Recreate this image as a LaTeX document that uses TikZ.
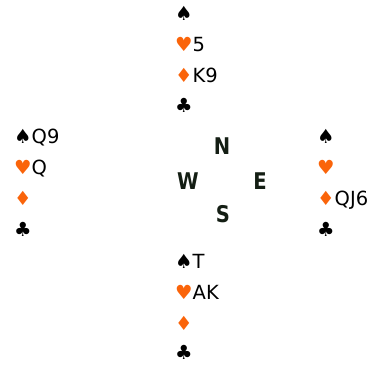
\documentclass[tikz,border=0pt]{standalone}
\usepackage{fontspec}
\setmainfont{DejaVu Sans}
\definecolor{suitorange}{RGB}{250,100,10}
\definecolor{compassdark}{RGB}{20,30,20}
\newcommand{\sS}{\textcolor{black}{♠}}
\newcommand{\sH}{\textcolor{suitorange}{♥}}
\newcommand{\sD}{\textcolor{suitorange}{♦}}
\newcommand{\sC}{\textcolor{black}{♣}}
\tikzset{
  handline/.style={anchor=base west, inner sep=0pt, font=\fontsize{19.5}{23}\selectfont},
  compass/.style={anchor=center, inner sep=0pt, text=compassdark, xscale=0.85, font=\fontsize{23}{26}\selectfont\bfseries}
}
\begin{document}
\begin{tikzpicture}[x=1pt,y=-1pt]
\useasboundingbox (0,0) rectangle (373,365);
% North
\node[handline] (n1) at (175,20) {\sS};
\node[handline] (n2) at (175,51) {\sH5};
\node[handline] (n3) at (175,82) {\sD K9};
\node[handline] (n4) at (175,112) {\sC};
% West
\node[handline] (w1) at (14,143) {\sS Q9};
\node[handline] (w2) at (14,174) {\sH Q};
\node[handline] (w3) at (14,205) {\sD};
\node[handline] (w4) at (14,236) {\sC};
% East
\node[handline] (e1) at (317,143) {\sS};
\node[handline] (e2) at (317,174) {\sH};
\node[handline] (e3) at (317,205) {\sD QJ6};
\node[handline] (e4) at (317,236) {\sC};
% South
\node[handline] (s1) at (175,268) {\sS T};
\node[handline] (s2) at (175,299) {\sH AK};
\node[handline] (s3) at (175,330) {\sD};
\node[handline] (s4) at (175,359) {\sC};
% Compass
\node[compass] (cn) at (222,146) {N};
\node[compass] (cw) at (188,181) {W};
\node[compass] (ce) at (260,181) {E};
\node[compass] (cs) at (223,214) {S};
\end{tikzpicture}
\end{document}
